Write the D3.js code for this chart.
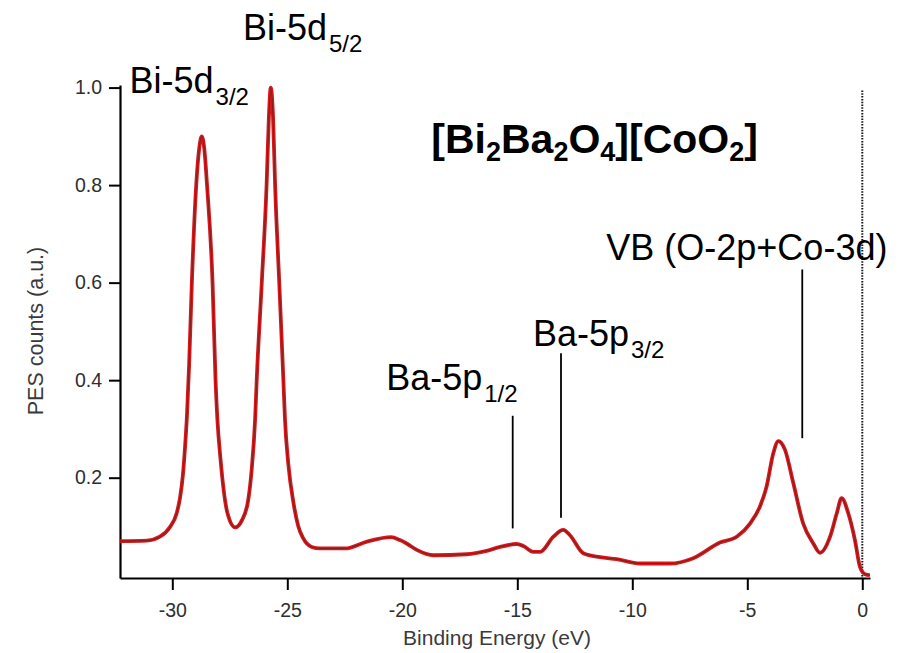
<!DOCTYPE html>
<html>
<head>
<meta charset="utf-8">
<script src="https://cdn.jsdelivr.net/npm/d3@7"></script>
<style>
  html, body { margin: 0; padding: 0; background: #fff; }
  svg { display: block; }
  text { font-family: "Liberation Sans", Arial, Helvetica, sans-serif; }
</style>
</head>
<body>
<svg id="chart" width="905" height="653"></svg>
<script>
// ---- data (binding energy in eV, PES counts normalised) ----
const energy = [
  -32.27, -31.11, -30.54, -30.10, -29.81, -29.66, -29.54, -29.45, -29.36, -29.27,
  -29.15, -28.96, -28.83, -28.72, -28.61, -28.49, -28.25, -28.12, -28.04, -27.90,
  -27.60, -27.27, -26.97, -26.70, -26.55, -26.40, -26.33, -26.11, -25.90, -25.80,
  -25.72, -25.62, -25.53, -25.35, -25.17, -25.10, -24.96, -24.73, -24.52, -24.31,
  -23.94, -23.58, -23.00, -22.49, -21.53, -20.49, -20.10, -19.81, -19.37, -18.65,
  -17.20, -16.33, -15.75, -15.03, -14.74, -14.30, -14.01, -13.43, -13.00, -12.71,
  -12.13, -11.40, -10.68, -9.67, -8.36, -7.35, -6.19, -5.46, -4.88, -4.45,
  -4.16, -3.87, -3.65, -3.36, -3.00, -2.57, -2.13, -1.84, -1.40, -1.11,
  -0.90, -0.61, -0.32, -0.10, 0.12, 0.33
];
const counts = [
  0.070, 0.071, 0.079, 0.099, 0.127, 0.160, 0.205, 0.260, 0.330, 0.430,
  0.600, 0.800, 0.875, 0.900, 0.875, 0.800, 0.600, 0.400, 0.320, 0.236,
  0.127, 0.098, 0.113, 0.154, 0.216, 0.319, 0.400, 0.600, 0.800, 0.940,
  1.000, 0.940, 0.800, 0.600, 0.400, 0.319, 0.230, 0.148, 0.100, 0.076,
  0.058, 0.055, 0.055, 0.055, 0.069, 0.078, 0.072, 0.065, 0.052, 0.041,
  0.043, 0.050, 0.058, 0.064, 0.060, 0.048, 0.048, 0.079, 0.093, 0.082,
  0.045, 0.037, 0.033, 0.024, 0.024, 0.035, 0.067, 0.079, 0.106, 0.141,
  0.182, 0.250, 0.275, 0.257, 0.189, 0.106, 0.065, 0.046, 0.079, 0.127,
  0.158, 0.127, 0.072, 0.017, 0.002, 0.000
];
const xTicks = [-30, -25, -20, -15, -10, -5, 0];
const yTicks = [0.2, 0.4, 0.6, 0.8, 1.0];
const xDomain = [-32.274, 0.335];
const yDomain = [-0.0057, 1.0053];
const xLabel = "Binding Energy (eV)";
const yLabel = "PES counts (a.u.)";

// peak labels: main text, subscript, anchor energy, anchor counts
const peakMain = ["Bi-5d", "Bi-5d", "Ba-5p", "Ba-5p", "VB (O-2p+Co-3d)"];
const peakSub  = ["3/2", "5/2", "1/2", "3/2", ""];
const peakLabelE = [-31.86, -26.93, -20.70, -14.32, -11.13];
const peakLabelC = [0.9885, 1.0978, 0.380, 0.471, 0.6466];

// leader lines
const leaderE = [-15.20, -13.10, -2.61];
const leaderTop = [0.327, 0.455, 0.627];
const leaderBottom = [0.096, 0.118, 0.281];

// title (compound formula): pieces with subscript flags
const titleParts = ["[Bi", "2", "Ba", "2", "O", "4", "][CoO", "2", "]"];
const titleIsSub = [false, true, false, true, false, true, false, true, false];
const titleE = -18.74, titleC = 0.8654;
const fermiE = 0, fermiTop = 0.994;

// ---- drawing ----
const svg = d3.select("#chart");
const x = d3.scaleLinear().domain(xDomain).range([120, 870]);
const y = d3.scaleLinear().domain(yDomain).range([578, 85]);

// Fermi level dotted line
svg.append("line")
  .attr("x1", x(fermiE)).attr("x2", x(fermiE))
  .attr("y1", y(fermiTop)).attr("y2", y(yDomain[0]))
  .attr("stroke", "#1a1a1a").attr("stroke-width", 2)
  .attr("stroke-dasharray", "1.5,1.3");

// axes
const xAxis = svg.append("g")
  .attr("transform", `translate(0,${y(yDomain[0])})`)
  .call(d3.axisBottom(x).tickValues(xTicks).tickFormat(d => String(d))
        .tickSize(12).tickSizeOuter(0).tickPadding(13));
const yAxis = svg.append("g")
  .attr("transform", `translate(${x(xDomain[0])},0)`)
  .call(d3.axisLeft(y).tickValues(yTicks).tickFormat(d3.format(".1f"))
        .tickSize(11).tickSizeOuter(0).tickPadding(7));

[xAxis, yAxis].forEach(g => {
  g.select(".domain").attr("stroke", "#000").attr("stroke-width", 2.2);
  g.selectAll(".tick line").attr("stroke", "#000").attr("stroke-width", 2);
  g.selectAll(".tick text")
    .attr("fill", "#2e2e2e")
    .style("font-family", "'Liberation Sans', Arial, sans-serif")
    .style("font-size", "19.5px");
});

// axis titles
svg.append("text")
  .attr("x", (x(xDomain[0]) + x(xDomain[1])) / 2 + 2)
  .attr("y", 645)
  .attr("text-anchor", "middle")
  .attr("fill", "#3a3a3a")
  .style("font-size", "21px")
  .text(xLabel);
svg.append("text")
  .attr("transform", `translate(43,${331}) rotate(-90)`)
  .attr("text-anchor", "middle")
  .attr("fill", "#3a3a3a")
  .style("font-size", "21.5px")
  .text(yLabel);

// spectrum
const pts = energy.map((e, i) => [e, counts[i]]);
const line = d3.line().x(d => x(d[0])).y(d => y(d[1])).curve(d3.curveMonotoneX);
svg.append("path").datum(pts)
  .attr("d", line).attr("fill", "none")
  .attr("stroke", "#d61a1c").attr("stroke-width", 3.8)
  .attr("stroke-linejoin", "round");
svg.append("path").datum(pts)
  .attr("d", line).attr("fill", "none")
  .attr("stroke", "#8a1c1c").attr("stroke-width", 1.1)
  .attr("stroke-linejoin", "round");

// leader lines
leaderE.forEach((e, i) => {
  svg.append("line")
    .attr("x1", x(e)).attr("x2", x(e))
    .attr("y1", y(leaderTop[i])).attr("y2", y(leaderBottom[i]))
    .attr("stroke", "#000").attr("stroke-width", 1.8);
});

// peak labels
peakMain.forEach((m, i) => {
  const t = svg.append("text")
    .attr("x", x(peakLabelE[i])).attr("y", y(peakLabelC[i]))
    .attr("fill", "#000")
    .style("font-size", "36px");
  t.append("tspan").text(m);
  if (peakSub[i]) {
    t.append("tspan").attr("dx", 2).attr("dy", 12)
      .style("font-size", "24px").text(peakSub[i]);
  }
});

// title
const tt = svg.append("text")
  .attr("x", x(titleE)).attr("y", y(titleC))
  .attr("fill", "#000")
  .style("font-size", "41px").style("font-weight", "bold");
let prevSub = false;
titleParts.forEach((p, i) => {
  const sub = titleIsSub[i];
  const ts = tt.append("tspan").text(p);
  if (sub) ts.attr("dy", 8).style("font-size", "27px");
  else if (prevSub) ts.attr("dy", -8);
  prevSub = sub;
});
</script>
</body>
</html>
